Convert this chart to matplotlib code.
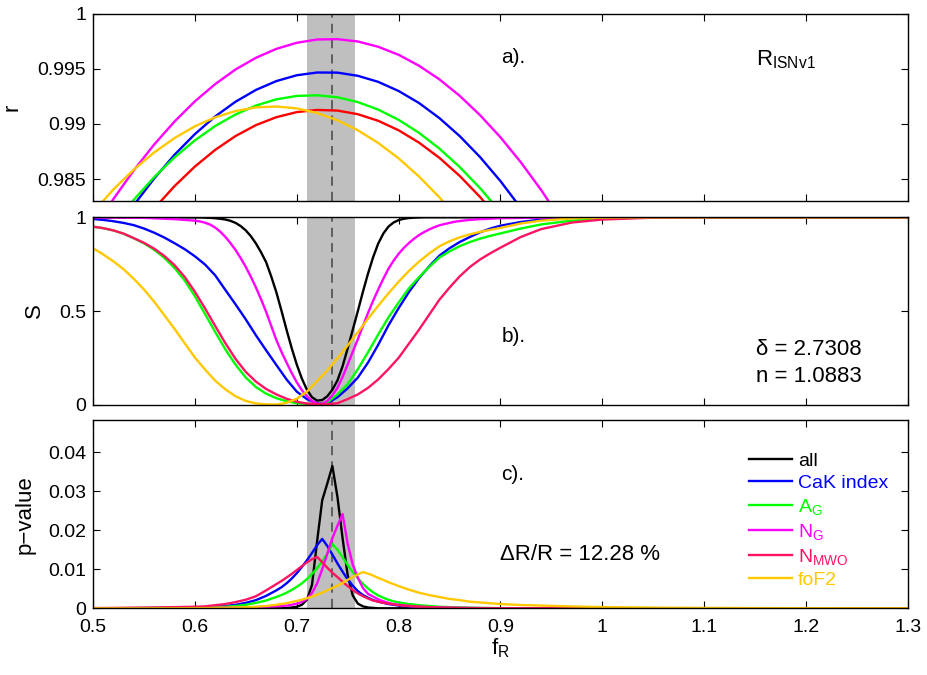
import matplotlib
matplotlib.use('Agg')
import matplotlib.pyplot as plt
from matplotlib.ticker import FormatStrFormatter

plt.rcParams['font.family'] = ['Liberation Sans', 'DejaVu Sans']
plt.rcParams['mathtext.fontset'] = 'custom'
plt.rcParams['mathtext.rm'] = 'Liberation Sans'
plt.rcParams['axes.linewidth'] = 1.0

# colours
c_all = '#000000'
c_cak = '#0000FF'
c_ag = '#00FF00'
c_ng = '#FF00FF'
c_mwo = '#FF1463'
c_red = '#FF0000'
c_fof2 = '#FFC800'

# best f_R and its uncertainty band
f_best = 0.7345
band_lo = 0.7099
band_hi = 0.7570

# ---- panel a: correlation r vs f_R
xa = [0.50, 0.52, 0.54, 0.56, 0.58, 0.60, 0.62, 0.64, 0.66, 0.68, 0.70, 0.72,
      0.74, 0.76, 0.78, 0.80, 0.82, 0.84, 0.86, 0.88, 0.90, 0.92, 0.94, 0.96]
r_cak = [0.97696, 0.97992, 0.98262, 0.98504, 0.98720, 0.98908, 0.99069, 0.99203,
         0.99310, 0.99390, 0.99443, 0.99468, 0.99467, 0.99438, 0.99383, 0.99300,
         0.99191, 0.99054, 0.98890, 0.98699, 0.98481, 0.98236, 0.97964, 0.97665]
r_ag = [0.97827, 0.98081, 0.98311, 0.98516, 0.98696, 0.98851, 0.98982, 0.99087,
        0.99168, 0.99224, 0.99255, 0.99261, 0.99243, 0.99199, 0.99131, 0.99038,
        0.98920, 0.98777, 0.98609, 0.98417, 0.98199, 0.97957, 0.97690, 0.97398]
r_ng = [0.98032, 0.98318, 0.98578, 0.98813, 0.99022, 0.99206, 0.99363, 0.99496,
        0.99602, 0.99683, 0.99738, 0.99768, 0.99771, 0.99750, 0.99702, 0.99629,
        0.99530, 0.99406, 0.99256, 0.99080, 0.98879, 0.98652, 0.98399, 0.98120]
r_mwo = [0.97458, 0.97742, 0.98000, 0.98231, 0.98435, 0.98613, 0.98765, 0.98891,
         0.98990, 0.99062, 0.99108, 0.99128, 0.99122, 0.99089, 0.99029, 0.98943,
         0.98831, 0.98693, 0.98528, 0.98336, 0.98118, 0.97874, 0.97604, 0.97307]
r_fof2 = [0.98199, 0.98405, 0.98585, 0.98741, 0.98872, 0.98979, 0.99061, 0.99118,
          0.99151, 0.99159, 0.99142, 0.99100, 0.99034, 0.98943, 0.98828, 0.98688,
          0.98523, 0.98334, 0.98119, 0.97881, 0.97617, 0.97329, 0.97016, 0.96679]

# ---- panel b: S vs f_R
xb = [0.50, 0.51, 0.52, 0.53, 0.54, 0.55, 0.56, 0.57, 0.58, 0.59,
      0.60, 0.61, 0.62, 0.63, 0.64, 0.65, 0.66, 0.67, 0.68, 0.69,
      0.70, 0.71, 0.72, 0.73, 0.74, 0.75, 0.76, 0.77, 0.78, 0.79,
      0.80, 0.81, 0.82, 0.83, 0.84, 0.85, 0.86, 0.87, 0.88, 0.89,
      0.90, 0.92, 0.94, 0.97, 1.00, 1.05, 1.10, 1.20, 1.30]
s_cak = [0.991, 0.986, 0.979, 0.970, 0.958, 0.940, 0.918, 0.892, 0.862, 0.830,
         0.792, 0.748, 0.690, 0.612, 0.535, 0.455, 0.370, 0.290, 0.212, 0.135,
         0.070, 0.030, 0.007, 0.008, 0.040, 0.088, 0.145, 0.225, 0.320, 0.423,
         0.515, 0.600, 0.675, 0.738, 0.795, 0.835, 0.868, 0.895, 0.920, 0.940,
         0.955, 0.975, 0.988, 0.997, 0.999, 1, 1, 1, 1]
s_ag = [0.950, 0.942, 0.930, 0.912, 0.888, 0.861, 0.827, 0.784, 0.730, 0.663,
        0.579, 0.484, 0.388, 0.295, 0.213, 0.145, 0.094, 0.059, 0.035, 0.019,
        0.008, 0.004, 0.003, 0.012, 0.055, 0.110, 0.190, 0.280, 0.375, 0.465,
        0.545, 0.620, 0.680, 0.735, 0.785, 0.818, 0.846, 0.868, 0.886, 0.901,
        0.914, 0.940, 0.962, 0.982, 0.993, 0.999, 1, 1, 1]
s_mwo = [0.950, 0.942, 0.930, 0.913, 0.889, 0.864, 0.833, 0.794, 0.745, 0.682,
         0.603, 0.514, 0.420, 0.328, 0.244, 0.175, 0.123, 0.084, 0.055, 0.032,
         0.016, 0.006, 0.003, 0.002, 0.008, 0.030, 0.055, 0.090, 0.135, 0.190,
         0.250, 0.325, 0.400, 0.480, 0.560, 0.625, 0.685, 0.735, 0.775, 0.808,
         0.838, 0.895, 0.937, 0.972, 0.988, 0.998, 1, 1, 1]
s_fof2 = [0.835, 0.802, 0.765, 0.723, 0.672, 0.615, 0.550, 0.478, 0.405, 0.328,
          0.252, 0.188, 0.128, 0.082, 0.045, 0.020, 0.007, 0.002, 0.001, 0.010,
          0.032, 0.070, 0.126, 0.183, 0.248, 0.316, 0.387, 0.459, 0.528, 0.594,
          0.656, 0.713, 0.763, 0.807, 0.845, 0.872, 0.893, 0.909, 0.922, 0.933,
          0.943, 0.967, 0.982, 0.994, 0.998, 1, 1, 1, 1]

# the two narrow dips are read on a finer step
xb_fine = [0.50, 0.55, 0.58,
           0.600, 0.605, 0.610, 0.615, 0.620, 0.625, 0.630, 0.635, 0.640, 0.645,
           0.650, 0.655, 0.660, 0.665, 0.670, 0.675, 0.680, 0.685, 0.690, 0.695,
           0.700, 0.705, 0.710, 0.715, 0.720, 0.725, 0.730, 0.735, 0.740, 0.745,
           0.750, 0.755, 0.760, 0.765, 0.770, 0.775, 0.780, 0.785, 0.790, 0.795,
           0.800, 0.805, 0.810, 0.815, 0.820, 0.825, 0.830, 0.835, 0.840, 0.845,
           0.850, 0.855, 0.860,
           0.87, 0.88, 0.90, 0.94, 0.97, 1.00, 1.10, 1.30]
s_all = [1, 1, 1,
         0.999, 0.999, 0.998, 0.997, 0.995, 0.992, 0.988, 0.981, 0.970, 0.953,
         0.930, 0.899, 0.860, 0.813, 0.760, 0.684, 0.600, 0.502, 0.400, 0.303,
         0.215, 0.140, 0.080, 0.040, 0.022, 0.025, 0.045, 0.080, 0.130, 0.205,
         0.300, 0.400, 0.500, 0.603, 0.700, 0.787, 0.860, 0.913, 0.950, 0.972,
         0.985, 0.992, 0.996, 0.998, 0.999, 1, 1, 1, 1, 1,
         1, 1, 1,
         1, 1, 1, 1, 1, 1, 1, 1]
s_ng = [0.999, 0.997, 0.990,
        0.982, 0.978, 0.971, 0.961, 0.945, 0.923, 0.895, 0.862, 0.825, 0.782,
        0.735, 0.682, 0.625, 0.562, 0.495, 0.420, 0.345, 0.282, 0.225, 0.170,
        0.120, 0.078, 0.045, 0.020, 0.006, 0.006, 0.020, 0.050, 0.090, 0.148,
        0.215, 0.282, 0.350, 0.420, 0.490, 0.555, 0.615, 0.672, 0.725, 0.768,
        0.805, 0.836, 0.862, 0.885, 0.905, 0.921, 0.935, 0.947, 0.957, 0.964,
        0.970, 0.976, 0.980,
        0.986, 0.990, 0.995, 0.998, 1, 1, 1, 1]

# ---- panel c: p-value vs f_R
xc = [0.50, 0.52, 0.54, 0.56, 0.58, 0.60, 0.61, 0.62, 0.63, 0.64, 0.65, 0.66, 0.67, 0.68,
      0.685, 0.69, 0.695, 0.70, 0.705, 0.71, 0.715, 0.72, 0.725, 0.73, 0.735, 0.74,
      0.745, 0.75, 0.755, 0.76, 0.765, 0.77, 0.775, 0.78, 0.785, 0.79, 0.795, 0.80,
      0.81, 0.82, 0.83, 0.84, 0.85, 0.86, 0.87, 0.88, 0.89, 0.90,
      0.92, 0.94, 0.96, 0.98, 1.00, 1.05, 1.10, 1.20, 1.30]
p_all = [0, 0, 0, 0, 0, 0, 0, 0, 0, 0, 0, 0, 0, 0,
         0, 0.0001, 0.0002, 0.0004, 0.0009, 0.0022, 0.0060, 0.0172, 0.0277, 0.0320,
         0.0365, 0.0285, 0.0180, 0.0085, 0.0033, 0.0012, 0.0005, 0.0002, 0.0001, 0,
         0, 0, 0, 0,
         0, 0, 0, 0, 0, 0, 0, 0, 0, 0,
         0, 0, 0, 0, 0, 0, 0, 0, 0]
p_cak = [0, 0.00002, 0.00005, 0.0001, 0.00015, 0.0002, 0.0003, 0.0004, 0.0006, 0.0009,
         0.0014, 0.0021, 0.0032, 0.0046,
         0.0054, 0.0064, 0.0076, 0.0090, 0.0106, 0.0123, 0.0142, 0.0162, 0.0178, 0.0160,
         0.0138, 0.0115, 0.0094, 0.0074, 0.0058, 0.0044, 0.0034, 0.0027, 0.0021, 0.0017,
         0.0014, 0.0011, 0.0009, 0.0007,
         0.0005, 0.0003, 0.0002, 0.0002, 0.0001, 0.0001, 0.00005, 0.00003, 0.00002, 0.00001,
         0, 0, 0, 0, 0, 0, 0, 0, 0]
p_ag = [0, 0.00002, 0.00004, 0.00007, 0.0001, 0.00015, 0.0002, 0.0003, 0.0004, 0.0006,
        0.0009, 0.0014, 0.0020, 0.0029,
        0.0034, 0.0040, 0.0047, 0.0055, 0.0064, 0.0075, 0.0088, 0.0103, 0.0120, 0.0140,
        0.0165, 0.0150, 0.0131, 0.0111, 0.0093, 0.0077, 0.0063, 0.0051, 0.0041, 0.0033,
        0.0027, 0.0022, 0.0018, 0.0015,
        0.0011, 0.0008, 0.0006, 0.0004, 0.0003, 0.0002, 0.00015, 0.0001, 0.00007, 0.00005,
        0.00002, 0, 0, 0, 0, 0, 0, 0, 0]
p_ng = [0, 0, 0.00001, 0.00002, 0.00004, 0.00007, 0.0001, 0.00013, 0.00017, 0.0002,
        0.00025, 0.0003, 0.0004, 0.0005,
        0.0006, 0.0007, 0.0009, 0.0012, 0.0016, 0.0024, 0.0039, 0.0064, 0.0100, 0.0140,
        0.0180, 0.0212, 0.0242, 0.0165, 0.0112, 0.0078, 0.0052, 0.0037, 0.0030, 0.0023,
        0.0018, 0.0014, 0.0011, 0.0009,
        0.0006, 0.0004, 0.0003, 0.0002, 0.00015, 0.0001, 0.00007, 0.00005, 0.00004, 0.00003,
        0.00001, 0, 0, 0, 0, 0, 0, 0, 0]
p_mwo = [0.00005, 0.0001, 0.00015, 0.0002, 0.0003, 0.0004, 0.0005, 0.0008, 0.0011, 0.0016,
         0.0022, 0.0031, 0.0046, 0.0062,
         0.0070, 0.0079, 0.0088, 0.0098, 0.0108, 0.0118, 0.0126, 0.0132, 0.0118, 0.0104,
         0.0091, 0.0080, 0.0068, 0.0057, 0.0047, 0.0038, 0.0031, 0.0025, 0.0020, 0.0017,
         0.0014, 0.0012, 0.0010, 0.0008,
         0.0006, 0.0004, 0.0003, 0.0002, 0.00015, 0.0001, 0.00007, 0.00005, 0.00003, 0.00002,
         0, 0, 0, 0, 0, 0, 0, 0, 0]
p_fof2 = [0, 0, 0, 0.00001, 0.00002, 0.00004, 0.00006, 0.00009, 0.00013, 0.0002,
          0.0003, 0.0004, 0.0006, 0.0009,
          0.0011, 0.0013, 0.0016, 0.0019, 0.0022, 0.0026, 0.0030, 0.0035, 0.0040, 0.0046,
          0.0052, 0.0058, 0.0065, 0.0073, 0.0080, 0.0087, 0.0093, 0.0089, 0.0084, 0.0078,
          0.0073, 0.0067, 0.0062, 0.0057,
          0.0048, 0.0040, 0.0034, 0.0029, 0.0024, 0.0021, 0.0017, 0.0015, 0.0013, 0.0011,
          0.00085, 0.0007, 0.00055, 0.00042, 0.00032, 0.00017, 0.00009, 0.00003, 0.00001]

xticks = [0.5, 0.6, 0.7, 0.8, 0.9, 1.0, 1.1, 1.2, 1.3]
lw = 1.7

fig = plt.figure(figsize=(9.28, 6.75), dpi=100)
axa = fig.add_axes([0.1002, 0.7022, 0.8782, 0.2771])
axb = fig.add_axes([0.1002, 0.4004, 0.8782, 0.2777])
axc = fig.add_axes([0.1002, 0.0988, 0.8782, 0.2790])

for ax in (axa, axb, axc):
    ax.axvspan(band_lo, band_hi, color='#bfbfbf', lw=0, zorder=0)
    ax.axvline(f_best, color='#444444', lw=1.1, dashes=(6, 4), zorder=1)
    ax.set_xlim(0.5, 1.3)
    ax.set_xticks(xticks)
    ax.xaxis.set_major_formatter(FormatStrFormatter('%g'))
    ax.yaxis.set_major_formatter(FormatStrFormatter('%g'))
    ax.tick_params(direction='in', top=True, right=True, length=5, width=0.8,
                   labelsize=14, pad=5)
    ax.tick_params(axis='x', pad=8)

# a)
axa.plot(xa, r_cak, color=c_cak, lw=lw)
axa.plot(xa, r_ag, color=c_ag, lw=lw)
axa.plot(xa, r_ng, color=c_ng, lw=lw)
axa.plot(xa, r_mwo, color=c_red, lw=lw)
axa.plot(xa, r_fof2, color=c_fof2, lw=lw)
axa.set_ylim(0.983, 1.0)
axa.set_yticks([0.985, 0.99, 0.995, 1.0])
axa.tick_params(labelbottom=False)
axa.set_ylabel('r', fontsize=16)
axa.yaxis.set_label_coords(-0.087, 0.5)
axa.text(0.901, 0.996, 'a).', fontsize=15, va='center')
axa.text(1.151, 0.9958, r'$\mathregular{R_{ISNv1}}$', fontsize=16, va='center')

# b)
axb.plot(xb_fine, s_all, color=c_all, lw=lw)
axb.plot(xb, s_cak, color=c_cak, lw=lw)
axb.plot(xb, s_ag, color=c_ag, lw=lw)
axb.plot(xb_fine, s_ng, color=c_ng, lw=lw)
axb.plot(xb, s_mwo, color=c_mwo, lw=lw)
axb.plot(xb, s_fof2, color=c_fof2, lw=lw)
axb.set_ylim(0, 1)
axb.set_yticks([0, 0.5, 1])
axb.tick_params(labelbottom=False)
axb.set_ylabel('S', fontsize=16)
axb.yaxis.set_label_coords(-0.059, 0.5)
axb.text(0.901, 0.363, 'b).', fontsize=15, va='center')
axb.text(1.151, 0.292, '\u03b4 = 2.7308', fontsize=16, va='center')
axb.text(1.151, 0.149, 'n = 1.0883', fontsize=16, va='center')

# c)
axc.plot(xc, p_all, color=c_all, lw=lw, label='all')
axc.plot(xc, p_cak, color=c_cak, lw=lw, label='CaK index')
axc.plot(xc, p_ag, color=c_ag, lw=lw, label=r'$\mathregular{A_G}$')
axc.plot(xc, p_ng, color=c_ng, lw=lw, label=r'$\mathregular{N_G}$')
axc.plot(xc, p_mwo, color=c_mwo, lw=lw, label=r'$\mathregular{N_{MWO}}$')
axc.plot(xc, p_fof2, color=c_fof2, lw=lw, label='foF2')
axc.set_ylim(0, 0.0483)
axc.set_yticks([0, 0.01, 0.02, 0.03, 0.04])
axc.set_ylabel('p\u2212value', fontsize=16)
axc.yaxis.set_label_coords(-0.071, 0.5)
axc.set_xlabel(r'$\mathregular{f_R}$', fontsize=16, labelpad=0)
axc.text(0.9005, 0.0342, 'c).', fontsize=15, va='center')
axc.text(0.900, 0.0137, '\u0394R/R = 12.28 %', fontsize=16, va='center')
axc.legend(loc='upper left', bbox_to_anchor=(0.805, 0.83), frameon=False,
           fontsize=14, handlelength=2.2, handletextpad=0.3, labelspacing=0.25,
           borderpad=0, borderaxespad=0, labelcolor='linecolor')

fig.savefig('out.png', dpi=100)
